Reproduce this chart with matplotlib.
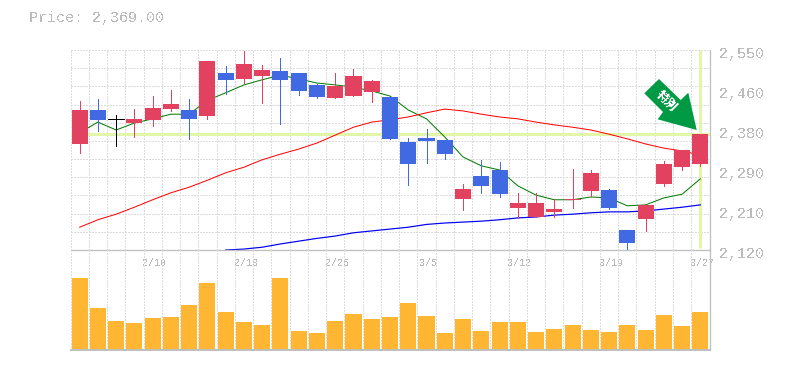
from matplotlib import pyplot as plt
from matplotlib.patches import Polygon
import numpy as np

# daily prices, 35 sessions
OPEN = [2348, 2421, 2401, 2393, 2400, 2423, 2421, 2408, 2501, 2488, 2494, 2505, 2501, 2475, 2447, 2451, 2460, 2449,
        2352, 2361, 2356, 2230, 2279, 2292, 2210, 2191, 2202, 2228, 2247, 2249, 2163, 2187, 2262, 2298, 2305]
CLOSE = [2421, 2400, 2401, 2402, 2425, 2434, 2402, 2526, 2486, 2520, 2507, 2486, 2462, 2449, 2473, 2494, 2483, 2359,
         2305, 2354, 2326, 2251, 2258, 2240, 2221, 2221, 2208, 2230, 2286, 2210, 2135, 2217, 2305, 2335, 2369]
HIGH = [2440, 2445, 2410, 2423, 2451, 2464, 2445, 2526, 2516, 2548, 2518, 2533, 2501, 2477, 2501, 2509, 2486, 2449,
        2361, 2380, 2356, 2262, 2314, 2309, 2243, 2243, 2230, 2294, 2292, 2251, 2163, 2217, 2311, 2335, 2369]
LOW = [2329, 2376, 2344, 2363, 2387, 2419, 2359, 2402, 2455, 2479, 2436, 2391, 2453, 2447, 2447, 2451, 2438, 2359,
       2260, 2307, 2316, 2206, 2243, 2234, 2189, 2191, 2191, 2210, 2236, 2208, 2122, 2161, 2258, 2292, 2301]
VOLUME = [71, 41, 28, 26, 31, 32, 44, 66, 37, 27, 24, 71, 18, 16, 28, 35, 30, 32,
          46, 33, 16, 30, 18, 27, 27, 17, 20, 24, 19, 17, 24, 19, 34, 23, 37]

MA_SHORT = [2372, 2395, 2378, 2393, 2402, 2412, 2412, 2442, 2458, 2475, 2486, 2496, 2488, 2479, 2475, 2470, 2462, 2451,
            2421, 2402, 2363, 2320, 2301, 2292, 2258, 2238, 2228, 2228, 2234, 2232, 2215, 2217, 2232, 2240, 2273]
MA_MID = [2169, 2185, 2197, 2212, 2228, 2243, 2255, 2270, 2286, 2298, 2314, 2326, 2337, 2350, 2367, 2384, 2395, 2400,
          2406, 2415, 2423, 2419, 2412, 2406, 2402, 2395, 2389, 2384, 2378, 2369, 2359, 2348, 2339, 2333, 2324]
MA_LONG = [2120, 2122, 2126, 2133, 2139, 2145, 2150, 2157, 2161, 2165, 2169, 2175, 2178, 2180, 2182, 2185, 2189,
           2191, 2195, 2197, 2200, 2202, 2202, 2204, 2208, 2212, 2217]
MA_LONG_START = 8

Y_TICKS = [2550, 2464, 2378, 2292, 2206, 2120]
Y_LABELS = ["2,550", "2,460", "2,380", "2,290", "2,210", "2,120"]
X_TICKS = [4, 9, 14, 19, 24, 29, 34]
X_LABELS = ["2/10", "2/18", "2/26", "3/5", "3/12", "3/19", "3/27"]
LAST_PRICE = 2369

W, H = 785, 370
PX = 0.72  # one pixel in points
UP = "#e2415f"
DOWN = "#4169e1"
GRID = "#dcdcdc"
GUIDE = "#e2f5a8"
TEXT = "#bbbbbb"
MONO = "Liberation Mono"
DASH = (0, (2, 2))

plt.rcParams["text.antialiased"] = False

fig = plt.figure(figsize=(W / 100, H / 100), dpi=100)


def box(x0, y0, x1, y1):
    return [x0 / W, 1 - y1 / H, (x1 - x0) / W, (y1 - y0) / H]


ax = fig.add_axes(box(70.5, 50, 709.5, 250))
ax_vol = fig.add_axes(box(70.5, 250, 709.5, 350))
xs = np.arange(len(OPEN))

for a in (ax, ax_vol):
    a.set_xlim(-0.5, 34.5)
    a.set_xticks(np.arange(-0.5, 35))
    a.tick_params(length=0, labelbottom=False, labelleft=False)
    a.set_axisbelow(True)
    a.patch.set_alpha(0)
    for side in ("top", "left"):
        a.spines[side].set_visible(False)
    for side in ("right", "bottom"):
        a.spines[side].set_color("#bfbfbf")
        a.spines[side].set_linewidth(PX * 1.3)
    a.grid(axis="x", color=GRID, linewidth=PX, linestyle=DASH, antialiased=False)

ax.set_ylim(2120, 2550)
ax.set_yticks(np.linspace(2120, 2550, 12))
ax.grid(axis="y", color=GRID, linewidth=PX, linestyle=DASH, antialiased=False)
ax_vol.set_ylim(-1.4, 99)
ax_vol.set_yticks([])
ax_vol.spines["bottom"].set_linewidth(PX * 2)

# guide lines through the last session
ax.axhline(LAST_PRICE, color=GUIDE, linewidth=PX * 3, zorder=1.5)
ax.plot([xs[-1], xs[-1]], [2124, 2550], color=GUIDE, linewidth=PX * 3, zorder=1.5, solid_capstyle="butt")

# moving averages sit under the candles
ax.plot(xs, MA_SHORT, color="#007a00", linewidth=PX, zorder=2)
ax.plot(xs, MA_MID, color="#ff0000", linewidth=PX, zorder=2)
ax.plot(xs[MA_LONG_START:], MA_LONG, color="#0000ee", linewidth=PX * 1.2, zorder=2)

for i in xs:
    o, c = OPEN[i], CLOSE[i]
    if c > o:
        col = UP
    elif c < o:
        col = DOWN
    else:
        col = "black"
    ax.vlines(i, LOW[i], HIGH[i], color=col, linewidth=PX, zorder=3, antialiased=False)
    if c == o:
        ax.hlines(o, i - 0.44, i + 0.44, color=col, linewidth=PX, zorder=3, antialiased=False)
    else:
        ax.bar(i, abs(c - o), bottom=min(o, c), width=0.88, color=col, zorder=3, antialiased=False)

ax_vol.bar(xs, VOLUME, width=0.88, color="#ffb733", zorder=3, antialiased=False)

for v, s in zip(Y_TICKS, Y_LABELS):
    ax.annotate(s, (1, v), xycoords=("axes fraction", "data"), xytext=(9.5, -4), textcoords="offset pixels",
                family=MONO, fontsize=10.8, color=TEXT, va="center", ha="left", annotation_clip=False)
for i, s in zip(X_TICKS, X_LABELS):
    ax.annotate(s, (i, 2120), xycoords="data", xytext=(2, -12.5), textcoords="offset pixels",
                family=MONO, fontsize=7.2, color=TEXT, va="center", ha="center", annotation_clip=False)

fig.text(29 / W, 1 - 18 / H, "Price: 2,369.00", family=MONO, fontsize=10.8, color=TEXT, va="center", ha="left")

# green arrow badge, figure pixels
arrow_px = [(659, 79), (644.3, 93.3), (663, 112), (657.7, 119.3), (696.7, 130), (688.3, 92.7), (680.7, 100)]
fig.add_artist(Polygon([(x / W, 1 - y / H) for x, y in arrow_px], closed=True, transform=fig.transFigure,
                       facecolor="#009944", edgecolor="none", zorder=5))
fig.text(666.5 / W, 1 - 101 / H, "特別", family=["Noto Sans CJK JP", "DejaVu Sans"], fontsize=8.5, fontweight="bold",
         color="white", rotation=-45, rotation_mode="anchor", va="center", ha="center", zorder=6)

fig.savefig("out.png", dpi=100)
